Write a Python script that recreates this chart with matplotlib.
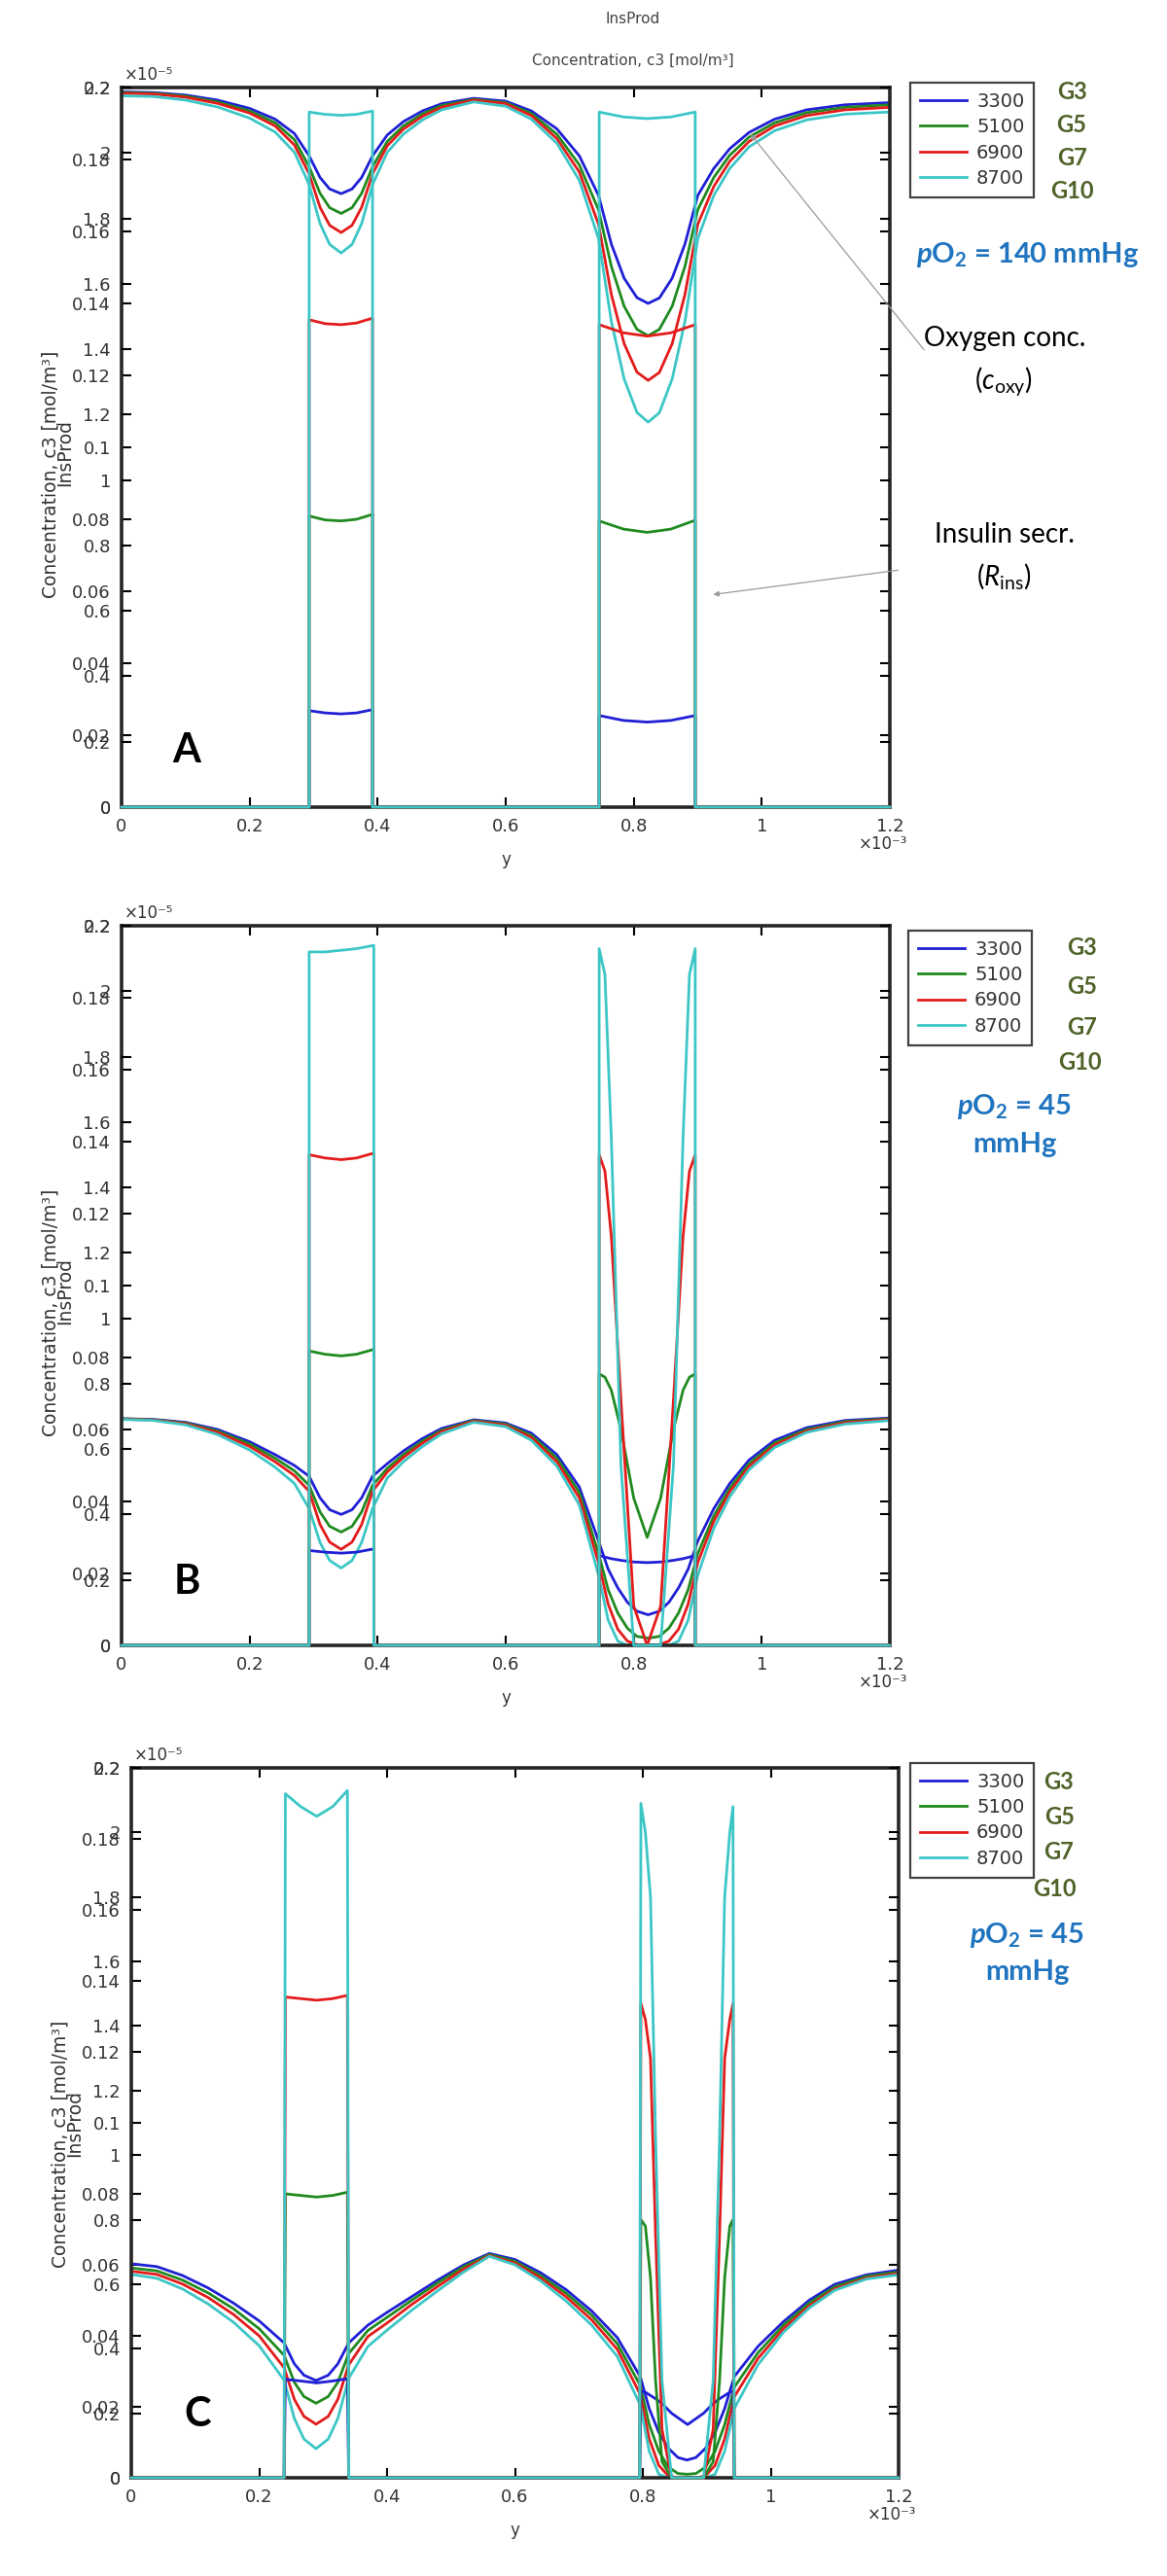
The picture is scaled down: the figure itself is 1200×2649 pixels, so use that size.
import matplotlib
matplotlib.use("Agg")
import matplotlib.pyplot as plt
from matplotlib.lines import Line2D

plt.rcParams['font.family'] = ['DejaVu Sans']
plt.rcParams['mathtext.fontset'] = 'custom'
plt.rcParams['mathtext.rm'] = 'Lato'
plt.rcParams['mathtext.it'] = 'Lato:italic'
plt.rcParams['mathtext.bf'] = 'Lato:bold'
plt.rcParams['mathtext.bfit'] = 'Lato:italic:bold'

# ---------------- data ----------------
series_labels = ["3300", "5100", "6900", "8700"]
glucose_labels = ["G3", "G5", "G7", "G10"]

x_ticks = [0, 0.2, 0.4, 0.6, 0.8, 1.0, 1.2]
x_tick_labels = ["0", "0.2", "0.4", "0.6", "0.8", "1", "1.2"]
oxy_ticks = [0, 0.02, 0.04, 0.06, 0.08, 0.10, 0.12, 0.14, 0.16, 0.18, 0.20]
oxy_tick_labels = ["0", "0.02", "0.04", "0.06", "0.08", "0.1", "0.12", "0.14", "0.16", "0.18", "0.2"]
ins_ticks = [0, 0.2, 0.4, 0.6, 0.8, 1.0, 1.2, 1.4, 1.6, 1.8, 2.0, 2.2]
ins_tick_labels = ["0", "0.2", "0.4", "0.6", "0.8", "1", "1.2", "1.4", "1.6", "1.8", "2", "2.2"]

# Panel A (pO2 = 140 mmHg) - oxygen concentration [mol/m3] vs y [x1e-3 m]
xA_oxy = [0, 0.05, 0.10, 0.15, 0.20, 0.24, 0.27, 0.293, 0.31, 0.325, 0.343, 0.36, 0.375, 0.392, 0.415,
          0.44, 0.47, 0.50, 0.55, 0.60, 0.64, 0.68, 0.715, 0.745, 0.765, 0.785, 0.805, 0.8225, 0.84, 0.86,
          0.88, 0.90, 0.925, 0.95, 0.98, 1.02, 1.07, 1.13, 1.20]
oxyA_3300 = [0.1988, 0.1986, 0.1979, 0.1965, 0.1942, 0.1912, 0.1872, 0.1810, 0.1750, 0.1718, 0.1705, 0.1718,
             0.1750, 0.1810, 0.1868, 0.1905, 0.1935, 0.1955, 0.1970, 0.1962, 0.1935, 0.1885, 0.1810, 0.1700,
             0.1565, 0.1470, 0.1416, 0.1400, 0.1415, 0.1470, 0.1565, 0.1700, 0.1775, 0.1830, 0.1875, 0.1912,
             0.1938, 0.1952, 0.1958]
oxyA_5100 = [0.1986, 0.1984, 0.1976, 0.1960, 0.1935, 0.1902, 0.1855, 0.1780, 0.1706, 0.1666, 0.1650, 0.1666,
             0.1706, 0.1780, 0.1850, 0.1893, 0.1927, 0.1950, 0.1967, 0.1958, 0.1928, 0.1870, 0.1785, 0.1660,
             0.1503, 0.1392, 0.1328, 0.1310, 0.1328, 0.1392, 0.1503, 0.1660, 0.1750, 0.1812, 0.1862, 0.1902,
             0.1930, 0.1945, 0.1952]
oxyA_6900 = [0.1984, 0.1982, 0.1973, 0.1956, 0.1929, 0.1893, 0.1840, 0.1760, 0.1667, 0.1617, 0.1597, 0.1617,
             0.1667, 0.1760, 0.1838, 0.1884, 0.1920, 0.1945, 0.1965, 0.1955, 0.1922, 0.1858, 0.1765, 0.1620,
             0.1425, 0.1288, 0.1209, 0.1186, 0.1208, 0.1288, 0.1425, 0.1620, 0.1725, 0.1795, 0.1850, 0.1893,
             0.1922, 0.1938, 0.1945]
oxyA_8700 = [0.1977, 0.1975, 0.1965, 0.1946, 0.1915, 0.1876, 0.1820, 0.1730, 0.1622, 0.1564, 0.1540, 0.1564,
             0.1622, 0.1730, 0.1820, 0.1870, 0.1910, 0.1938, 0.1960, 0.1948, 0.1912, 0.1845, 0.1742, 0.1580,
             0.1350, 0.1190, 0.1097, 0.1070, 0.1096, 0.1190, 0.1350, 0.1580, 0.1700, 0.1775, 0.1835, 0.1880,
             0.1910, 0.1926, 0.1932]
# Panel A - insulin secretion [x1e-5]
xA_ins = [0, 0.293, 0.293, 0.318, 0.343, 0.367, 0.392, 0.392, 0.746, 0.746, 0.784, 0.821, 0.858, 0.896, 0.896, 1.2]
insA_3300 = [0, 0, 0.295, 0.288, 0.285, 0.288, 0.298, 0, 0, 0.280, 0.265, 0.260, 0.265, 0.280, 0, 0]
insA_5100 = [0, 0, 0.890, 0.878, 0.875, 0.880, 0.895, 0, 0, 0.875, 0.850, 0.840, 0.850, 0.877, 0, 0]
insA_6900 = [0, 0, 1.490, 1.478, 1.475, 1.480, 1.495, 0, 0, 1.475, 1.450, 1.440, 1.450, 1.475, 0, 0]
insA_8700 = [0, 0, 2.125, 2.118, 2.115, 2.118, 2.128, 0, 0, 2.125, 2.110, 2.105, 2.110, 2.125, 0, 0]

# Panel B (pO2 = 45 mmHg)
xB_oxy = [0, 0.05, 0.10, 0.15, 0.20, 0.24, 0.27, 0.293, 0.31, 0.325, 0.343, 0.36, 0.375, 0.392, 0.415,
          0.44, 0.47, 0.50, 0.55, 0.60, 0.64, 0.68, 0.715, 0.745, 0.76, 0.775, 0.79, 0.805, 0.8225, 0.84,
          0.855, 0.87, 0.885, 0.90, 0.925, 0.95, 0.98, 1.02, 1.07, 1.13, 1.20]
oxyB_3300 = [0.0630, 0.0628, 0.0620, 0.0600, 0.0566, 0.0530, 0.0500, 0.0470, 0.0410, 0.0377, 0.0364, 0.0377,
             0.0410, 0.0470, 0.0505, 0.0540, 0.0575, 0.0603, 0.0627, 0.0618, 0.0590, 0.0530, 0.0440, 0.0290,
             0.0212, 0.0160, 0.0120, 0.0095, 0.0085, 0.0095, 0.0120, 0.0160, 0.0212, 0.0290, 0.0380, 0.0450,
             0.0515, 0.0570, 0.0605, 0.0625, 0.0632]
oxyB_5100 = [0.0630, 0.0627, 0.0618, 0.0596, 0.0560, 0.0520, 0.0485, 0.0445, 0.0371, 0.0331, 0.0315, 0.0331,
             0.0371, 0.0445, 0.0492, 0.0530, 0.0568, 0.0598, 0.0625, 0.0615, 0.0584, 0.0520, 0.0425, 0.0255,
             0.0155, 0.0090, 0.0048, 0.0025, 0.0020, 0.0025, 0.0048, 0.0090, 0.0155, 0.0255, 0.0360, 0.0437,
             0.0505, 0.0563, 0.0600, 0.0622, 0.0630]
oxyB_6900 = [0.0629, 0.0626, 0.0616, 0.0592, 0.0553, 0.0510, 0.0472, 0.0428, 0.0336, 0.0287, 0.0267, 0.0287,
             0.0336, 0.0428, 0.0482, 0.0522, 0.0562, 0.0594, 0.0623, 0.0612, 0.0578, 0.0510, 0.0410, 0.0230,
             0.0115, 0.0045, 0.0012, 0.0002, 0.0000, 0.0002, 0.0012, 0.0045, 0.0115, 0.0230, 0.0345, 0.0427,
             0.0497, 0.0557, 0.0596, 0.0619, 0.0628]
oxyB_8700 = [0.0628, 0.0625, 0.0613, 0.0586, 0.0543, 0.0495, 0.0450, 0.0380, 0.0286, 0.0236, 0.0215, 0.0236,
             0.0286, 0.0380, 0.0465, 0.0510, 0.0553, 0.0588, 0.0620, 0.0608, 0.0570, 0.0498, 0.0390, 0.0195,
             0.0070, 0.0012, 0.0000, 0.0000, 0.0000, 0.0000, 0.0000, 0.0012, 0.0070, 0.0195, 0.0325, 0.0413,
             0.0488, 0.0550, 0.0592, 0.0615, 0.0625]
xB_ins = [0, 0.293, 0.293, 0.318, 0.343, 0.367, 0.394, 0.394, 0.746, 0.746, 0.755, 0.765, 0.78, 0.80, 0.821,
          0.842, 0.862, 0.877, 0.887, 0.896, 0.896, 1.2]
insB_3300 = [0, 0, 0.290, 0.285, 0.282, 0.285, 0.295, 0, 0, 0.275, 0.270, 0.265, 0.260, 0.255, 0.253, 0.255,
             0.260, 0.265, 0.270, 0.275, 0, 0]
insB_5100 = [0, 0, 0.900, 0.890, 0.885, 0.890, 0.905, 0, 0, 0.830, 0.820, 0.780, 0.660, 0.450, 0.330, 0.450,
             0.660, 0.780, 0.820, 0.830, 0, 0]
insB_6900 = [0, 0, 1.500, 1.490, 1.485, 1.490, 1.505, 0, 0, 1.500, 1.450, 1.250, 0.750, 0.120, 0.000, 0.120,
             0.750, 1.250, 1.450, 1.500, 0, 0]
insB_8700 = [0, 0, 2.120, 2.120, 2.125, 2.130, 2.140, 0, 0, 2.130, 2.050, 1.550, 0.550, 0.000, 0.000, 0.000,
             0.550, 1.550, 2.050, 2.130, 0, 0]

# Panel C (pO2 = 45 mmHg, different islet arrangement)
xC_oxy = [0, 0.04, 0.08, 0.12, 0.16, 0.20, 0.239, 0.255, 0.27, 0.289, 0.308, 0.323, 0.34, 0.37, 0.40, 0.44,
          0.48, 0.52, 0.56, 0.60, 0.64, 0.68, 0.72, 0.76, 0.796, 0.81, 0.825, 0.84, 0.855, 0.869, 0.883, 0.898,
          0.913, 0.928, 0.943, 0.98, 1.02, 1.06, 1.10, 1.15, 1.20]
oxyC_3300 = [0.0603, 0.0595, 0.0570, 0.0535, 0.0492, 0.0442, 0.0380, 0.0321, 0.0289, 0.0274, 0.0289, 0.0321,
             0.0380, 0.0430, 0.0466, 0.0512, 0.0558, 0.0600, 0.0632, 0.0615, 0.0578, 0.0530, 0.0470, 0.0395,
             0.0285, 0.0195, 0.0128, 0.0083, 0.0057, 0.0050, 0.0057, 0.0083, 0.0128, 0.0195, 0.0285, 0.0370,
             0.0440, 0.0500, 0.0545, 0.0572, 0.0585]
oxyC_5100 = [0.0591, 0.0583, 0.0557, 0.0521, 0.0476, 0.0420, 0.0345, 0.0269, 0.0229, 0.0210, 0.0229, 0.0269,
             0.0350, 0.0415, 0.0452, 0.0502, 0.0550, 0.0595, 0.0629, 0.0610, 0.0570, 0.0520, 0.0458, 0.0378,
             0.0260, 0.0150, 0.0075, 0.0030, 0.0012, 0.0010, 0.0012, 0.0030, 0.0075, 0.0150, 0.0255, 0.0352,
             0.0430, 0.0492, 0.0538, 0.0568, 0.0580]
oxyC_6900 = [0.0582, 0.0573, 0.0546, 0.0508, 0.0460, 0.0400, 0.0310, 0.0221, 0.0173, 0.0151, 0.0173, 0.0221,
             0.0318, 0.0398, 0.0436, 0.0490, 0.0540, 0.0588, 0.0626, 0.0605, 0.0563, 0.0510, 0.0445, 0.0362,
             0.0235, 0.0110, 0.0035, 0.0005, 0.0000, 0.0000, 0.0000, 0.0005, 0.0035, 0.0110, 0.0228, 0.0336,
             0.0420, 0.0484, 0.0532, 0.0563, 0.0576]
oxyC_8700 = [0.0573, 0.0562, 0.0532, 0.0490, 0.0438, 0.0372, 0.0275, 0.0167, 0.0109, 0.0082, 0.0109, 0.0167,
             0.0280, 0.0370, 0.0416, 0.0474, 0.0528, 0.0580, 0.0624, 0.0600, 0.0555, 0.0498, 0.0430, 0.0342,
             0.0205, 0.0075, 0.0010, 0.0000, 0.0000, 0.0000, 0.0000, 0.0000, 0.0010, 0.0075, 0.0195, 0.0318,
             0.0410, 0.0478, 0.0528, 0.0560, 0.0572]
xC_ins = [0, 0.239, 0.241, 0.265, 0.290, 0.315, 0.338, 0.340,
          0.795, 0.797, 0.804, 0.812, 0.820, 0.830, 0.845, 0.870, 0.895, 0.910, 0.920, 0.928, 0.936, 0.941,
          0.943, 1.2]
insC_3300 = [0, 0, 0.305, 0.300, 0.294, 0.300, 0.307, 0,
             0, 0.270, 0.265, 0.255, 0.245, 0.230, 0.200, 0.165, 0.200, 0.230, 0.245, 0.255, 0.265, 0.270, 0, 0]
insC_5100 = [0, 0, 0.880, 0.875, 0.870, 0.875, 0.885, 0,
             0, 0.800, 0.780, 0.620, 0.300, 0.050, 0.000, 0.000, 0.000, 0.050, 0.300, 0.620, 0.780, 0.800, 0, 0]
insC_6900 = [0, 0, 1.490, 1.485, 1.480, 1.485, 1.495, 0,
             0, 1.470, 1.420, 1.300, 0.750, 0.150, 0.000, 0.000, 0.000, 0.150, 0.750, 1.300, 1.420, 1.470, 0, 0]
insC_8700 = [0, 0, 2.120, 2.080, 2.050, 2.080, 2.130, 0,
             0, 2.090, 2.000, 1.800, 1.050, 0.300, 0.000, 0.000, 0.000, 0.300, 1.050, 1.800, 2.000, 2.080, 0, 0]

# ---------------- style ----------------
colors = ["#1f1fd6", "#1f8a1f", "#e31b1b", "#3cc6c6"]
g_color = "#4f6228"
po2_color = "#1f74bf"
W, H = 1200, 2649

fig = plt.figure(figsize=(W / 100, H / 100), dpi=100)


def fx(x):
    return x / W


def fy(y):
    return 1 - y / H


def draw_panel(box, x_oxy, oxy, x_ins, ins, letter, letter_xy, leg_xy, g_pos, po2_lines, po2_pos,
               ylab_xy, title=False):
    l, t, r, b = box
    rect = [fx(l), fy(b), (r - l) / W, (b - t) / H]
    ax = fig.add_axes(rect)
    for ys, c in zip(oxy, colors):
        ax.plot(x_oxy, ys, color=c, lw=2.0)
    ax.set_xlim(0, 1.2)
    ax.set_ylim(0, 0.2)
    ax.set_xticks(x_ticks)
    ax.set_xticklabels(x_tick_labels)
    ax.set_yticks(oxy_ticks)
    ax.set_yticklabels(oxy_tick_labels)
    ax.tick_params(direction='in', length=7, width=1.5, top=True, right=True, labelsize=13,
                   labelcolor='#333333', pad=8)
    for s in ax.spines.values():
        s.set_linewidth(2.6)
        s.set_color('#262626')

    ax2 = fig.add_axes(rect, frameon=False)
    for ys, c in zip(ins, colors):
        ax2.plot(x_ins, ys, color=c, lw=2.0, clip_on=False)
    ax2.set_xlim(0, 1.2)
    ax2.set_ylim(0, 2.2)
    ax2.set_xticks([])
    ax2.set_yticks(ins_ticks)
    ax2.set_yticklabels(ins_tick_labels)
    ax2.tick_params(axis='y', direction='in', length=7, width=1.5, left=True, right=True, labelsize=13,
                    labelcolor='#333333', pad=8)

    fig.text(fx(l + 3), fy(t - 4), "×10⁻⁵", fontsize=12, color='#333333', ha='left', va='bottom')
    fig.text(fx(r - 32), fy(b + 38), "×10⁻³", fontsize=12, color='#333333', ha='left', va='center')
    fig.text(fx((l + r) / 2), fy(b + 54), "y", fontsize=12, color='#333333', ha='center', va='center')
    yx, yy = ylab_xy
    fig.text(fx(yx), fy(yy), "Concentration, c3 [mol/m³]", rotation=90, fontsize=13.5, color='#333333',
             ha='center', va='center')
    fig.text(fx(yx + 15), fy(yy - 22), "InsProd", rotation=90, fontsize=13.5, color='#333333',
             ha='center', va='center')
    if title:
        fig.text(fx(651), fy(20), "InsProd", fontsize=11, color='#444444', ha='center', va='center')
        fig.text(fx(651), fy(62), "Concentration, c3 [mol/m³]", fontsize=11, color='#444444',
                 ha='center', va='center')

    fig.text(fx(letter_xy[0]), fy(letter_xy[1]), letter, fontsize=30, fontweight='bold',
             family=['Lato', 'DejaVu Sans'], ha='center', va='center', color='black')

    handles = [Line2D([], [], color=c, lw=2.0) for c in colors]
    leg = fig.legend(handles, series_labels, loc='upper left', bbox_to_anchor=(fx(leg_xy[0]), fy(leg_xy[1])),
                     bbox_transform=fig.transFigure, frameon=True, fancybox=False, edgecolor='#111111',
                     fontsize=14, handlelength=2.5, handletextpad=0.5, labelspacing=0.38, borderpad=0.5,
                     borderaxespad=0)
    leg.get_frame().set_linewidth(1.6)
    for txt in leg.get_texts():
        txt.set_color('#333333')

    for (gx, gy), g in zip(g_pos, glucose_labels):
        fig.text(fx(gx), fy(gy), g, fontsize=17, fontweight='bold', color=g_color,
                 family=['Lato', 'DejaVu Sans'], ha='center', va='center')
    for (px, py), txt in zip(po2_pos, po2_lines):
        fig.text(fx(px), fy(py), txt, fontsize=21, fontweight='bold', color=po2_color,
                 family=['Lato', 'DejaVu Sans'], ha='center', va='center')
    return ax


po2_140 = [r"$\mathbfit{p}\mathbf{O}_\mathbf{2}$ = 140 mmHg"]
po2_45 = [r"$\mathbfit{p}\mathbf{O}_\mathbf{2}$ = 45", "mmHg"]

axA = draw_panel((125, 90, 915, 830), xA_oxy, [oxyA_3300, oxyA_5100, oxyA_6900, oxyA_8700],
                 xA_ins, [insA_3300, insA_5100, insA_6900, insA_8700],
                 "A", (192, 772), (936, 85), [(1102, 95), (1102, 128), (1102, 162), (1102, 196)],
                 po2_140, [(1057, 262)], (52, 488), title=True)

axB = draw_panel((125, 952, 915, 1692), xB_oxy, [oxyB_3300, oxyB_5100, oxyB_6900, oxyB_8700],
                 xB_ins, [insB_3300, insB_5100, insB_6900, insB_8700],
                 "B", (192, 1627), (934, 957), [(1113, 974), (1113, 1015), (1113, 1056), (1110, 1092)],
                 po2_45, [(1043, 1138), (1043, 1177)], (52, 1350))

axC = draw_panel((135, 1818, 924, 2548), xC_oxy, [oxyC_3300, oxyC_5100, oxyC_6900, oxyC_8700],
                 xC_ins, [insC_3300, insC_5100, insC_6900, insC_8700],
                 "C", (203, 2483), (936, 1813), [(1088, 1832), (1090, 1869), (1088, 1905), (1084, 1942)],
                 po2_45, [(1056, 1990), (1056, 2028)], (62, 2205))

arrow = dict(arrowstyle='-|>', color='#9a9a9a', lw=0.9, mutation_scale=8)
axA.annotate("", xy=(0.98, 0.1876), xycoords='data', xytext=(fx(952), fy(362)),
             textcoords='figure fraction', arrowprops=arrow)
axA.annotate("", xy=(0.92, 0.059), xycoords='data', xytext=(fx(926), fy(586)),
             textcoords='figure fraction', arrowprops=arrow)
fig.text(fx(1033), fy(348), "Oxygen conc.", fontsize=20, family=['Lato', 'DejaVu Sans'],
         ha='center', va='center', color='black')
fig.text(fx(1032), fy(392), r"($\mathit{c}_{\mathrm{oxy}}$)", fontsize=20, family=['Lato', 'DejaVu Sans'],
         ha='center', va='center', color='black')
fig.text(fx(1033), fy(550), "Insulin secr.", fontsize=20, family=['Lato', 'DejaVu Sans'],
         ha='center', va='center', color='black')
fig.text(fx(1032), fy(593), r"($\mathit{R}_{\mathrm{ins}}$)", fontsize=20, family=['Lato', 'DejaVu Sans'],
         ha='center', va='center', color='black')

fig.savefig("out.png", dpi=100)
